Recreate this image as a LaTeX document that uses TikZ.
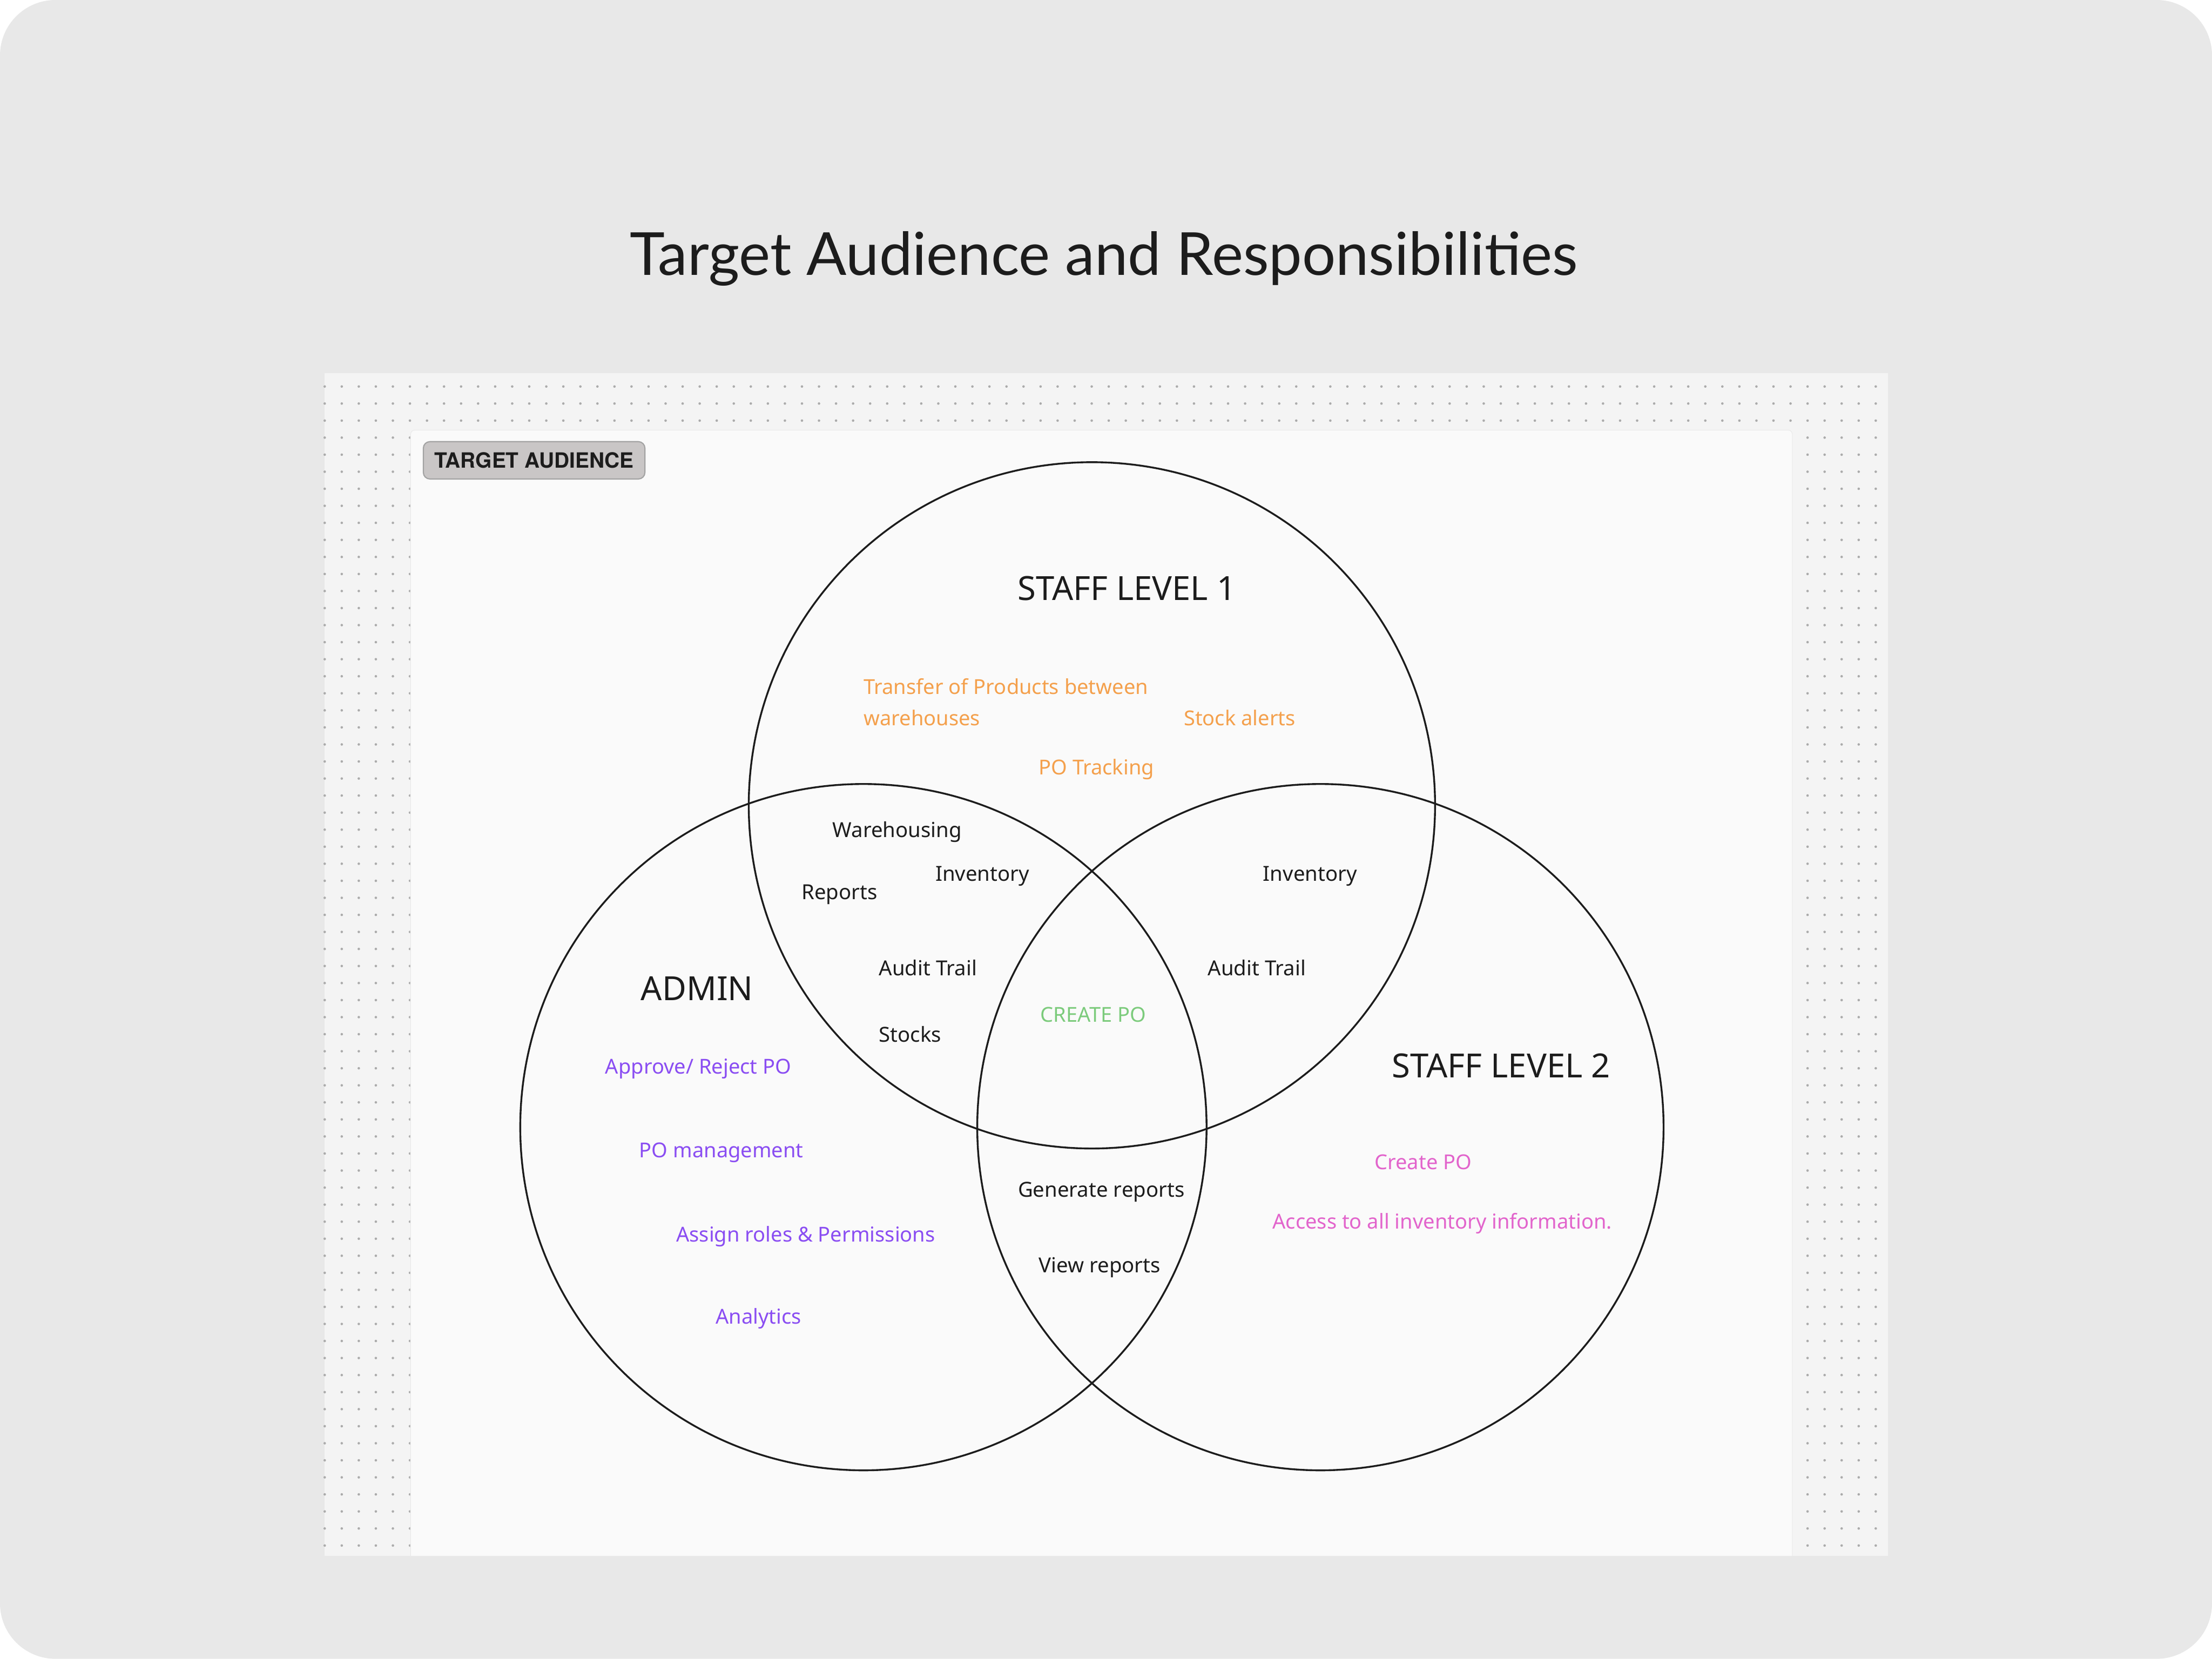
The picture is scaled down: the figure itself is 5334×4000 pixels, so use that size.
\documentclass[tikz,border=0pt]{standalone}
\usepackage{fontspec}
\setmainfont{Noto Sans}
\newfontfamily\titlefont{Lato}
\newfontfamily\tagfont{TeX Gyre Heros}
\definecolor{pagegrey}{HTML}{E8E8E8}
\definecolor{canvasgrey}{HTML}{F4F4F4}
\definecolor{framewhite}{HTML}{FAFAFA}
\definecolor{dotgrey}{HTML}{ABABAB}
\definecolor{ink}{HTML}{1C1C1C}
\definecolor{tagfill}{HTML}{C9C6C6}
\definecolor{tagline}{HTML}{A3A3A3}
\definecolor{orangetxt}{HTML}{F4A04C}
\definecolor{purpletxt}{HTML}{8A4DF2}
\definecolor{pinktxt}{HTML}{E264CC}
\definecolor{greentxt}{HTML}{7CCB7C}

\begin{document}
\begin{tikzpicture}[x=0.01cm,y=-0.01cm,
  every node/.style={inner sep=0pt,text=ink},
  venn/.style={draw=ink,line width=1.25pt,circle,minimum size=16.54cm},
  heading/.style={anchor=base west,font=\fontsize{22.8}{26}\selectfont},
  item/.style={anchor=base west,font=\fontsize{14.2}{18}\selectfont},
  duty/.style={item,font=\fontsize{14.1}{21.3}\selectfont,align=left},
  tag/.style={draw=tagline,line width=0.8pt,fill=tagfill,rounded corners=4.5pt,
    minimum width=5.34cm,minimum height=0.9cm,font=\tagfont\bfseries\fontsize{14.4}{17}\selectfont}]
  \useasboundingbox (0,0) rectangle (5334,4000);
  % page and canvas
  \fill[pagegrey,rounded corners=38pt] (0,0) rectangle (5334,4000);
  \fill[canvasgrey] (782,900) rectangle (4552,3752);
  \foreach \i in {0,...,91}{
    \foreach \j in {0,...,68}{
      \fill[dotgrey] (783+41.1*\i,932+41.1*\j) circle[radius=3];
    }
  }
  \filldraw[fill=framewhite,draw=canvasgrey!80!black!20!canvasgrey,rounded corners=3pt]
    (990,3752) -- (990,1037) -- (4322,1037) -- (4322,3752);
  % title and tag
  \node[anchor=base,font=\titlefont\fontsize{40.7}{48}\selectfont] (title) at (2662,663)
    {Target Audience and Responsibilities};
  \node[tag] (tagbox) at (1288,1110) {TARGET AUDIENCE};
  % circles
  \node[venn] (staffone) at (2633,1942) {};
  \node[venn] (admin) at (2082,2718) {};
  \node[venn] (stafftwo) at (3184,2718) {};
  % headings
  \node[heading] (headone) at (2453,1447) {STAFF LEVEL 1};
  \node[heading] (headadmin) at (1545,2412) {ADMIN};
  \node[heading] (headtwo) at (3356,2598) {STAFF LEVEL 2};
  % staff level 1
  \node[duty,text=orangetxt] (transfer) at (2082,1749) {Transfer of Products between\\warehouses};
  \node[duty,text=orangetxt] (alerts) at (2854,1749) {Stock alerts};
  \node[duty,text=orangetxt] (tracking) at (2504,1868) {PO Tracking};
  % admin and staff level 1
  \node[item] (warehousing) at (2007,2019) {Warehousing};
  \node[item] (inventoryl) at (2255,2125) {Inventory};
  \node[item] (reports) at (1932,2169) {Reports};
  \node[item] (auditl) at (2119,2353) {Audit Trail};
  \node[item] (stocks) at (2119,2513) {Stocks};
  % all three
  \node[duty,text=greentxt] (createall) at (2508,2464) {CREATE PO};
  % staff levels 1 and 2
  \node[item] (inventoryr) at (3045,2125) {Inventory};
  \node[item] (auditr) at (2912,2353) {Audit Trail};
  % admin
  \node[duty,text=purpletxt] (approve) at (1459,2590) {Approve/ Reject PO};
  \node[duty,text=purpletxt] (pomanage) at (1541,2791) {PO management};
  \node[duty,text=purpletxt] (roles) at (1630,2995) {Assign roles \& Permissions};
  \node[duty,text=purpletxt] (analytics) at (1725,3193) {Analytics};
  % admin and staff level 2
  \node[item] (genreports) at (2454,2887) {Generate reports};
  \node[item] (viewreports) at (2504,3069) {View reports};
  % staff level 2
  \node[duty,text=pinktxt] (createpo) at (3314,2820) {Create PO};
  \node[duty,text=pinktxt] (access) at (3068,2963) {Access to all inventory information.};
\end{tikzpicture}
\end{document}
